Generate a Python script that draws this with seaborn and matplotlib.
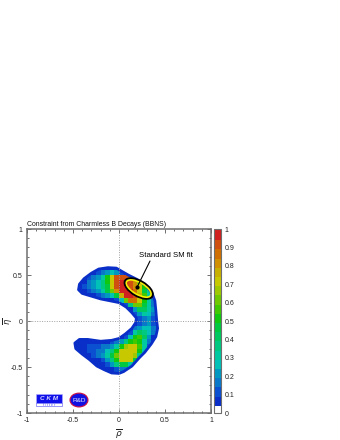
"""Constraint from charmless B decays: rho-eta plane, redrawn with seaborn."""
import numpy as np
import pandas as pd
import matplotlib
matplotlib.use("Agg")
import matplotlib.pyplot as plt
from matplotlib.colors import ListedColormap
from matplotlib.patches import Ellipse, Polygon, Rectangle
from matplotlib.ticker import FixedLocator
import seaborn as sns

# confidence level per cell, cells are 0.05 wide. one list per eta row, top to bottom
eta_tops = [0.60, 0.55, 0.50, 0.45, 0.40, 0.35, 0.30, 0.25, 0.20, 0.15, 0.10, 0.05,
            0.00, -0.05, -0.10, -0.15, -0.20, -0.25, -0.30, -0.35, -0.40, -0.45, -0.50, -0.55]
row_first_rho = [-0.30, -0.40, -0.40, -0.45, -0.45, -0.45, -0.40, -0.20, 0.00, 0.05, 0.15, 0.15,
                 0.15, 0.10, 0.05, -0.05, -0.40, -0.45, -0.45, -0.35, -0.25, -0.20, -0.15, -0.10]
row_values = [
    [.05, .05, .05, .05, .05, .05, .05],
    [.05, .05, .05, .1, .15, .2, .25, .2, .1, .05, .05],
    [.05, .1, .15, .2, .3, .5, .7, .9, .9, .9, .85, .7, .4, .15, .05],
    [.05, .05, .15, .2, .25, .35, .5, .7, .9, .98, .98, .9, .8, .6, .45, .25, .1],
    [.05, .1, .15, .2, .25, .35, .45, .7, .9, .98, 1, .9, .8, .7, .5, .3, .15, .05],
    [.05, .05, .1, .15, .2, .3, .45, .6, .8, .95, .98, .95, .85, .7, .45, .3, .15, .05],
    [.05, .05, .05, .1, .15, .2, .25, .45, .75, .95, .98, .9, .75, .55, .3, .15, .05],
    [.05, .05, .05, .1, .25, .6, .85, .85, .7, .5, .3, .15, .05],
    [.05, .1, .35, .6, .6, .45, .3, .15, .05],
    [.05, .05, .2, .4, .4, .3, .2, .05],
    [.1, .2, .3, .25, .15, .05],
    [.05, .1, .15, .2, .1, .05],
    [.05, .1, .15, .2, .1, .05],
    [.05, .15, .2, .25, .25, .15, .05],
    [.05, .1, .3, .4, .35, .25, .15, .05],
    [.05, .05, .1, .25, .5, .55, .4, .2, .05],
    [.05, .05, .05, .05, .05, .05, .1, .15, .2, .35, .5, .55, .5, .3, .15, .05],
    [.05, .05, .1, .1, .1, .15, .15, .2, .3, .5, .65, .7, .7, .55, .3, .1, .05],
    [.05, .05, .1, .1, .15, .15, .25, .35, .5, .72, .72, .72, .72, .5, .25, .1],
    [.05, .1, .15, .2, .3, .45, .6, .72, .72, .72, .65, .35, .15, .05],
    [.05, .1, .2, .35, .5, .7, .72, .7, .45, .2, .05],
    [.05, .1, .2, .35, .45, .45, .3, .15, .05],
    [.05, .05, .1, .15, .15, .05, .05],
    [.05, .05, .05, .05],
]

# outer edge of the allowed region
edge_rho = [-.44, -.43, -.38, -.30, -.22, -.12, -.03, .03, .10, .20, .30, .36, .39, .40, .41, .42,
            .40, .35, .28, .22, .14, .05, 0, -.08, -.16, -.24, -.32, -.40, -.47, -.48, -.43, -.34,
            -.20, -.08, 0, .07, .14, .18, .19, .14, .08, 0, -.10, -.20, -.30, -.40]
edge_eta = [.34, .40, .46, .52, .565, .58, .575, .54, .50, .45, .38, .30, .22, .12, 0, -.08,
            -.17, -.25, -.34, -.40, -.49, -.55, -.57, -.565, -.53, -.49, -.42, -.36, -.30, -.24, -.20, -.20,
            -.22, -.21, -.19, -.14, -.08, -.02, .03, .09, .15, .20, .22, .24, .27, .30]

fit_rho, fit_eta = 0.214, 0.353
level_colors = ["#ffffff", "#0a2fc8", "#0a50d0", "#0a78c8", "#0098c0", "#00c0b8", "#00c8a0",
                "#00c880", "#00c860", "#00c840", "#10c810", "#40c800", "#70c800", "#a0c800",
                "#c8c800", "#c8b000", "#d09000", "#d07000", "#d05010", "#d02020"]
tick_labels = ["-1", "-0.5", "0", "0.5", "1"]
cbar_ticks = [0, .1, .2, .3, .4, .5, .6, .7, .8, .9, 1]
cbar_labels = ["0", "0.1", "0.2", "0.3", "0.4", "0.5", "0.6", "0.7", "0.8", "0.9", "1"]

GRAY = "#6e6e6e"
N = 40


def to_x(rho):
    return (np.asarray(rho) + 1) / 0.05


def to_y(eta):
    return (1 - np.asarray(eta)) / 0.05


sns.set_theme(style="white")
plt.rcParams["font.family"] = ["Liberation Sans", "DejaVu Sans"]
plt.rcParams["font.size"] = 5
plt.rcParams["mathtext.fontset"] = "dejavusans"

grid = np.full((N, N), np.nan)
for top, first, vals in zip(eta_tops, row_first_rho, row_values):
    r = int(round((1 - top) / 0.05))
    c = int(round((first + 1) / 0.05))
    grid[r, c:c + len(vals)] = vals
df = pd.DataFrame(grid)

fig = plt.figure(figsize=(3.4, 4.4), dpi=100)
ax = fig.add_axes([27 / 340, 27 / 440, 184 / 340, 184 / 440])
cax = fig.add_axes([214 / 340, 27 / 440, 6.5 / 340, 184 / 440])

sns.heatmap(df, ax=ax, cbar_ax=cax, cmap=ListedColormap(level_colors), vmin=0, vmax=1,
            square=False, xticklabels=False, yticklabels=False,
            cbar_kws={"ticks": cbar_ticks})

# smooth edge: clip the cells to the outline and stroke it in dark blue
outline = np.column_stack([to_x(edge_rho), to_y(edge_eta)])
ax.add_patch(Polygon(outline, closed=True, fc="#0a2fc8", ec="none", zorder=0.5))
edge = Polygon(outline, closed=True, fill=False, ec="#0a2fc8", lw=2.0, joinstyle="round", zorder=3)
ax.add_patch(edge)
ax.collections[0].set_clip_path(edge)

ax.axhline(to_y(0), color="#a0a0a0", lw=0.7, ls=(0, (1, 1.5)), zorder=4)
ax.axvline(to_x(0), color="#a0a0a0", lw=0.7, ls=(0, (1, 1.5)), zorder=4)

# standard model fit
fit_xy = (to_x(fit_rho), to_y(fit_eta))
ax.add_patch(Ellipse(fit_xy, 6.7, 3.2, angle=30, fill=False, ec="black", lw=1.8, zorder=5))
ax.add_patch(Ellipse(fit_xy, 6.05, 2.6, angle=30, fill=False, ec="#f4f000", lw=1.2, zorder=6))
dot_rho, dot_eta = 0.195, 0.365
ax.plot(to_x(dot_rho), to_y(dot_eta), "o", color="black", ms=2, zorder=7)
ax.plot(to_x([dot_rho, 0.337]), to_y([dot_eta, 0.652]), color="black", lw=0.8, zorder=7)
ax.text(to_x(0.217), to_y(0.707), "Standard SM fit", fontsize=5.6, color="black",
        va="center", ha="left", zorder=7)

# logos
ax.add_patch(Rectangle((to_x(-0.902), to_y(-0.793)), 5.65, 1.96, fc="#1010e8", ec="#b0b0ff", lw=0.4, zorder=5))
ax.add_patch(Rectangle((to_x(-0.902), to_y(-0.891)), 5.65, 0.65, fc="white", ec="#5050f0", lw=0.4, zorder=5))
ax.text(to_x(-0.76), to_y(-0.842), "C K M", color="#d8d8ff", fontsize=4.6, style="italic", weight="bold",
        ha="center", va="center", zorder=6)
ax.text(to_x(-0.76), to_y(-0.908), "f i t t e r", color="#5050f0", fontsize=2.6, ha="center", va="center", zorder=6)
ax.add_patch(Ellipse((to_x(-0.435), to_y(-0.859)), 3.9, 3.0, fc="#1010e0", ec="#d01040", lw=0.8, zorder=5))
ax.text(to_x(-0.435), to_y(-0.862), "R&D", color="#e8e8ff", fontsize=4.6, ha="center", va="center", zorder=6)

# frame and ticks
ax.set_xlim(0, N)
ax.set_ylim(N, 0)
for s in ax.spines.values():
    s.set_visible(True)
    s.set_color(GRAY)
    s.set_linewidth(1.1)
major = [-1, -0.5, 0, 0.5, 1]
minor = [v / 10 for v in range(-10, 11)]
ax.xaxis.set_major_locator(FixedLocator(to_x(major)))
ax.yaxis.set_major_locator(FixedLocator(to_y(major)))
ax.xaxis.set_minor_locator(FixedLocator(to_x(minor)))
ax.yaxis.set_minor_locator(FixedLocator(to_y(minor)))
ax.set_xticklabels(tick_labels)
ax.set_yticklabels(tick_labels, rotation=0)
ax.tick_params(which="major", direction="in", length=3.2, width=0.7, color=GRAY,
               top=True, right=True, bottom=True, left=True, labelsize=5, labelcolor="#222222", pad=3)
ax.tick_params(which="minor", direction="in", length=1.6, width=0.7, color=GRAY,
               top=True, right=True, bottom=True, left=True)
ax.set_xlabel(r"$\overline{\rho}$", fontsize=6.5, labelpad=2, color="#222222")
ax.set_ylabel(r"$\overline{\eta}$", fontsize=6, labelpad=0, rotation=90, va="center", color="#222222")
ax.yaxis.set_label_coords(-0.105, 0.5)
ax.set_title("Constraint from Charmless B Decays (BBNS)", fontsize=4.95, loc="left", pad=2.2, color="#111111")

# colour bar
cb = ax.collections[0].colorbar
cb.set_ticklabels(cbar_labels)
cb.outline.set_edgecolor(GRAY)
cb.outline.set_linewidth(0.8)
cb.outline.set_visible(True)
cb.solids.set_edgecolor("face")
cax.tick_params(which="major", direction="in", length=4.7, width=0.6, color="#404040", right=True,
                labelsize=5, labelcolor="#222222", pad=3)

fig.savefig("out.png", dpi=100, facecolor="white")
plt.close(fig)
